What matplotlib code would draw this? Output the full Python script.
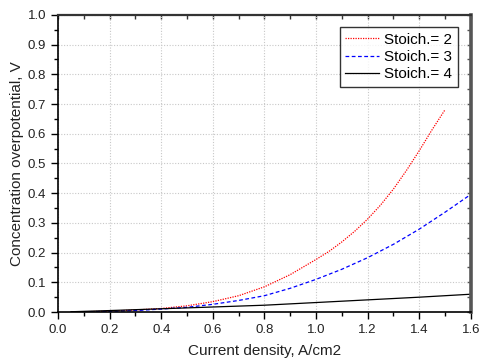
import matplotlib
matplotlib.use("Agg")
import matplotlib.pyplot as plt
from matplotlib.ticker import MultipleLocator, FormatStrFormatter

plt.rcParams['font.family'] = ['Liberation Sans', 'DejaVu Sans']

# Concentration overpotential vs current density for three stoichiometries
x_s2 = [0.05, 0.1, 0.2, 0.3, 0.4, 0.5, 0.6, 0.7, 0.8, 0.9, 1.0, 1.05, 1.1, 1.15,
        1.2, 1.25, 1.3, 1.35, 1.4, 1.45, 1.5]
y_s2 = [0.000, 0.001, 0.003, 0.007, 0.012, 0.021, 0.035, 0.055, 0.085, 0.126,
        0.177, 0.204, 0.236, 0.272, 0.313, 0.360, 0.414, 0.476, 0.543, 0.614, 0.681]

x_s3 = [0.05, 0.1, 0.2, 0.3, 0.4, 0.5, 0.6, 0.7, 0.8, 0.9, 1.0, 1.1, 1.2, 1.3, 1.4, 1.5, 1.6]
y_s3 = [0.000, 0.001, 0.002, 0.005, 0.010, 0.016, 0.026, 0.039, 0.055, 0.080,
        0.110, 0.144, 0.183, 0.228, 0.279, 0.336, 0.396]

x_s4 = [0.05, 0.2, 0.4, 0.6, 0.8, 1.0, 1.2, 1.4, 1.6]
y_s4 = [0.001, 0.005, 0.011, 0.017, 0.023, 0.032, 0.041, 0.050, 0.060]

labels = ["Stoich.= 2", "Stoich.= 3", "Stoich.= 4"]

fig = plt.figure(figsize=(4.8, 3.62), dpi=100)
ax = fig.add_axes([0.121, 0.138, 0.860, 0.821])

ax.plot(x_s2, y_s2, color='red', linestyle=(0, (1, 1)), linewidth=0.9, label=labels[0])
ax.plot(x_s3, y_s3, color='blue', linestyle=(0, (3, 2)), linewidth=0.9, label=labels[1])
ax.plot(x_s4, y_s4, color='black', linestyle='-', linewidth=0.9, label=labels[2])

ax.set_xlim(0, 1.6)
ax.set_ylim(0, 1.0)
ax.xaxis.set_major_locator(MultipleLocator(0.2))
ax.xaxis.set_minor_locator(MultipleLocator(0.1))
ax.yaxis.set_major_locator(MultipleLocator(0.1))
ax.yaxis.set_minor_locator(MultipleLocator(0.05))
ax.xaxis.set_major_formatter(FormatStrFormatter('%.1f'))
ax.yaxis.set_major_formatter(FormatStrFormatter('%.1f'))

ax.grid(True, which='major', color='#c8c8c8', linestyle=(0, (1, 1.5)), linewidth=0.8)

ax.tick_params(axis='both', which='major', direction='out', length=5, width=1.0,
               labelsize=9.5, colors='black', labelcolor='#222222')
ax.tick_params(axis='both', which='minor', direction='out', length=3, width=1.0)

for side in ('left', 'bottom'):
    ax.spines[side].set_linewidth(1.2)
ax.spines['top'].set_linewidth(1.6)
ax.spines['top'].set_color('#333333')
ax.spines['right'].set_linewidth(2.6)
ax.spines['right'].set_color('#555555')

# inward ticks on the top and right frame
top = ax.secondary_xaxis('top')
top.xaxis.set_major_locator(MultipleLocator(0.1))
top.tick_params(direction='in', length=3, width=1.0, labeltop=False, colors='#333333')
right = ax.secondary_yaxis('right')
right.yaxis.set_major_locator(MultipleLocator(0.05))
right.tick_params(direction='in', length=3, width=1.0, labelright=False, colors='#555555')
right.spines['right'].set_visible(False)
top.spines['top'].set_visible(False)

ax.set_xlabel("Current density, A/cm2", fontsize=11, color='#222222', labelpad=6)
ax.set_ylabel("Concentration overpotential, V", fontsize=11, color='#222222', labelpad=2.5)

leg = ax.legend(loc='upper right', bbox_to_anchor=(0.968, 0.958), fontsize=11,
                frameon=True, fancybox=False, edgecolor='black', handlelength=2.2,
                handletextpad=0.35, borderpad=0.35, labelspacing=0.22, borderaxespad=0.0)
leg.get_frame().set_linewidth(1.0)

fig.savefig("out.png", dpi=100)
